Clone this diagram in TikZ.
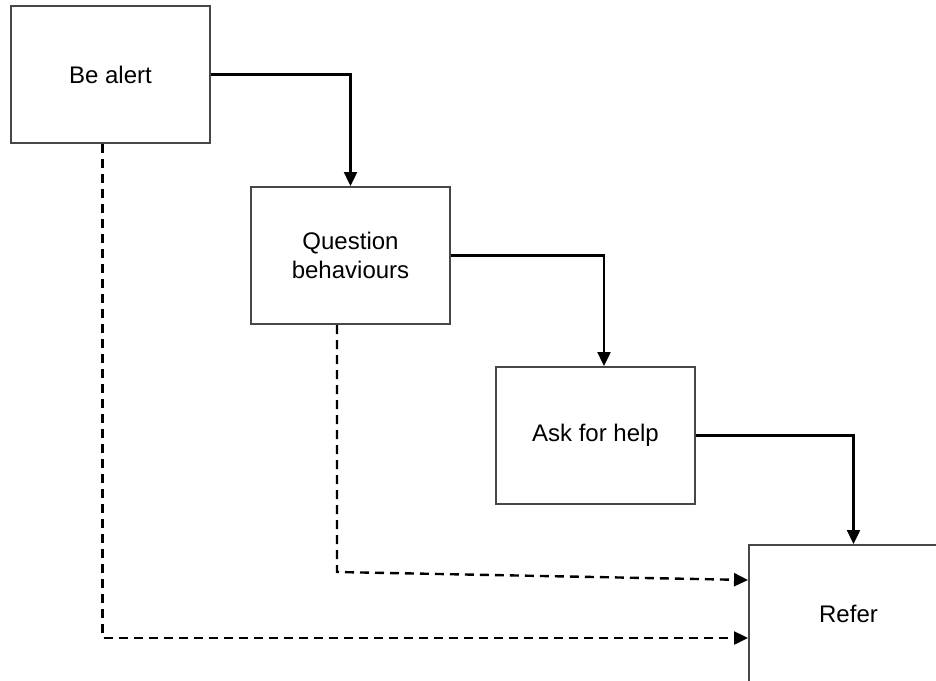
\documentclass[tikz,border=0pt]{standalone}
\usepackage{fontspec}
\setmainfont{Liberation Sans}
\usetikzlibrary{arrows.meta}
\begin{document}
\begin{tikzpicture}[x=1pt,y=-1pt,
  box/.style={draw=black!72, line width=2pt, minimum width=199pt, minimum height=137pt,
    inner sep=0pt, font=\fontsize{24}{29}\selectfont, align=center, anchor=north west},
  flow/.style={line width=2.4pt, -{Triangle[length=14pt,width=13pt]}},
  dflow/.style={flow, dash pattern=on 9pt off 6pt}]
\useasboundingbox (0,0) rectangle (936,680);
\clip (0,0) rectangle (936,680);
\node[box] (a) at (10,5) {Be alert};
\node[box] (b) at (250,186) {Question\\behaviours};
\node[box] (c) at (495,366) {Ask for help};
\node[box] (d) at (748,544) {Refer};
\draw[flow] (a.east) -| (b.north);
\draw[flow] (b.east) -| ([xshift=8.5pt]c.north);
\draw[flow] (c.east) -| ([xshift=5pt]d.north);
\draw[dflow] ([xshift=-8pt]a.south) |- ([yshift=-24.5pt]d.west);
\draw[dflow] ([xshift=-13.5pt]b.south) -- ++(0,247) -- ([yshift=33.5pt]d.west);
\end{tikzpicture}
\end{document}
